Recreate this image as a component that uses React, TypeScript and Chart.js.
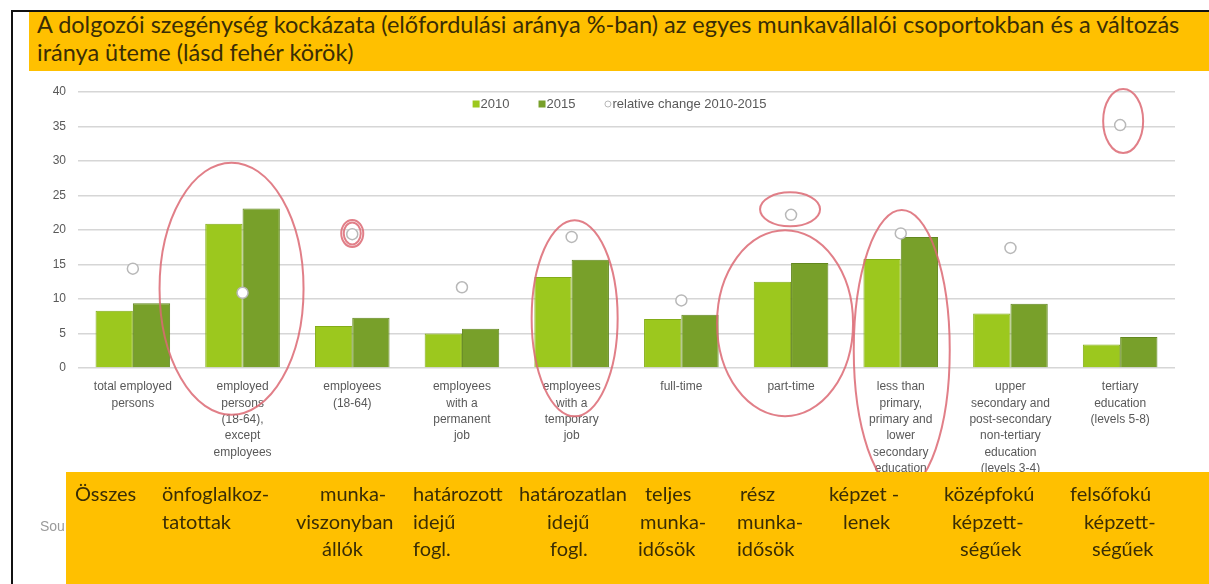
import React, { useEffect, useRef } from "react";
import { Chart, registerables } from "chart.js";

Chart.register(...registerables);

// ---------- data ----------
const categories: string[][] = [
  ["total employed", "persons"],
  ["employed", "persons", "(18-64),", "except", "employees"],
  ["employees", "(18-64)"],
  ["employees", "with a", "permanent", "job"],
  ["employees", "with a", "temporary", "job"],
  ["full-time"],
  ["part-time"],
  ["less than", "primary,", "primary and", "lower", "secondary", "education"],
  ["upper", "secondary and", "post-secondary", "non-tertiary", "education", "(levels 3-4)"],
  ["tertiary", "education", "(levels 5-8)"],
];
const values2010 = [8.3, 20.9, 6.1, 5.0, 13.2, 7.1, 12.5, 15.8, 7.9, 3.4];
const values2015 = [9.4, 23.1, 7.3, 5.7, 15.7, 7.7, 15.2, 19.0, 9.3, 4.5];
const relativeChange = [14.4, 10.9, 19.4, 11.7, 19.0, 9.8, 22.2, 19.5, 17.4, 35.2];
const seriesNames = ["2010", "2015", "relative change 2010-2015"];
const yMin = 0;
const yMax = 40;
const yStep = 5;

const titleLines = [
  "A dolgozói szegénység kockázata (előfordulási aránya %-ban) az egyes munkavállalói csoportokban és a változás",
  "iránya üteme (lásd fehér körök)",
];
const hungarianLabels: string[][] = [
  ["Összes"],
  ["önfoglalkoz-", "tatottak"],
  ["munka-", "viszonyban", "állók"],
  ["határozott", "idejű", "fogl."],
  ["határozatlan", "idejű", "fogl."],
  ["teljes", "munka-", "idősök"],
  ["rész", "munka-", "idősök"],
  ["képzet -", "lenek"],
  ["középfokú", "képzett-", "ségűek"],
  ["felsőfokú", "képzett-", "ségűek"],
];
const sourceText = "Source: Eurostat";

// ---------- layout / style (not data) ----------
const huLineLeft: number[][] = [
  [75],
  [162, 162],
  [320, 296, 322],
  [413, 413, 413],
  [519, 547, 550],
  [645, 640, 638],
  [740, 737, 737],
  [829, 843],
  [944, 952, 960],
  [1070, 1084, 1092],
];

// hand-drawn highlight ellipses, anchored to category index / value on the scales
const highlightEllipses = [
  { cat: 1, value: 11.5, dx: -11, rx: 72, ry: 126 },
  { cat: 2, value: 19.5, dx: 0, rx: 11, ry: 13.5 },
  { cat: 2, value: 19.5, dx: 0, rx: 8.5, ry: 11 },
  { cat: 4, value: 7.2, dx: 3, rx: 43, ry: 98 },
  { cat: 6, value: 23, dx: -1, rx: 30, ry: 17 },
  { cat: 6, value: 6.5, dx: -6, rx: 68, ry: 93 },
  { cat: 7, value: 2.6, dx: 1, rx: 48, ry: 140 },
  { cat: 9, value: 35.8, dx: 3, rx: 20, ry: 32 },
];

const ellipsePlugin = {
  id: "highlightEllipses",
  afterDraw(chart: any) {
    const { ctx, scales } = chart;
    const xs = scales.x;
    const ys = scales.y;
    ctx.save();
    ctx.strokeStyle = "rgba(220, 105, 115, 0.85)";
    ctx.lineWidth = 2;
    highlightEllipses.forEach((e) => {
      const cx = xs.getPixelForValue(e.cat) + e.dx;
      const cy = ys.getPixelForValue(e.value);
      ctx.beginPath();
      ctx.ellipse(cx, cy, e.rx, e.ry, 0, 0, Math.PI * 2);
      ctx.stroke();
    });
    ctx.restore();
  },
};

// legend drawn inside the plot area (between the top grid lines), like the source
const inPlotLegend = {
  id: "inPlotLegend",
  afterDatasetsDraw(chart: any) {
    const { ctx, chartArea } = chart;
    const font = "13px 'Liberation Sans', Arial, sans-serif";
    ctx.save();
    ctx.font = font;
    ctx.textBaseline = "middle";
    const box = 7;
    const gap = 1;
    const spacing = 29;
    const items = seriesNames.map((name) => {
      const ds = chart.data.datasets.find((d: any) => d.label === name);
      return { name, ds, w: box + gap + ctx.measureText(name).width };
    });
    const total = items.reduce((s: number, it: any) => s + it.w, 0) + spacing * (items.length - 1);
    let x = (chartArea.left + chartArea.right) / 2 - 7 - total / 2;
    const y = chartArea.top + 12;
    items.forEach((it: any) => {
      if (it.ds.type === "line") {
        ctx.beginPath();
        ctx.arc(x + box / 2, y, 3, 0, Math.PI * 2);
        ctx.fillStyle = "#ffffff";
        ctx.fill();
        ctx.strokeStyle = it.ds.pointBorderColor;
        ctx.lineWidth = 1;
        ctx.stroke();
      } else {
        ctx.fillStyle = it.ds.backgroundColor;
        ctx.fillRect(x, y - box / 2, box, box);
      }
      ctx.fillStyle = "#595959";
      ctx.fillText(it.name, x + box + gap, y);
      x += it.w + spacing;
    });
    ctx.restore();
  },
};

const CANVAS_LEFT = 14;
const CANVAS_TOP = 72;
const CANVAS_W = 1195;
const CANVAS_H = 512;

function ChartCanvas() {
  const ref = useRef<HTMLCanvasElement | null>(null);
  useEffect(() => {
    if (!ref.current) return;
    const axisFont = { family: "'Liberation Sans', Arial, sans-serif", size: 12 };
    const chart = new Chart(ref.current, {
      type: "bar",
      data: {
        labels: categories,
        datasets: [
          {
            type: "line",
            label: seriesNames[2],
            data: relativeChange,
            showLine: false,
            pointRadius: 5.5,
            pointHoverRadius: 5.5,
            pointStyle: "circle",
            pointBackgroundColor: "#ffffff",
            pointBorderColor: "#b8b8b8",
            pointBorderWidth: 1.5,
            backgroundColor: "#ffffff",
            borderColor: "#b8b8b8",
            borderWidth: 1.5,
            order: 0,
          } as any,
          {
            label: seriesNames[0],
            data: values2010,
            backgroundColor: "#9cc81e",
            borderColor: "#83ac18",
            borderWidth: 1,
            order: 1,
          } as any,
          {
            label: seriesNames[1],
            data: values2015,
            backgroundColor: "#78a02a",
            borderColor: "#62871f",
            borderWidth: 1,
            order: 1,
          } as any,
        ],
      },
      options: {
        responsive: false,
        animation: false,
        layout: { padding: { left: 0, right: 34, top: 20, bottom: 0 } },
        datasets: {
          bar: { categoryPercentage: 0.68, barPercentage: 1 },
        } as any,
        plugins: {
          tooltip: { enabled: false },
          legend: { display: false },
        },
        scales: {
          x: {
            grid: { display: false, drawTicks: true, tickLength: 8 },
            border: { display: false },
            ticks: {
              color: "#595959",
              font: { ...axisFont, lineHeight: 1.36 },
              padding: 3,
              maxRotation: 0,
              autoSkip: false,
            },
            afterFit: (s: any) => {
              s.height = 216;
            },
          },
          y: {
            min: yMin,
            max: yMax,
            ticks: { stepSize: yStep, color: "#595959", font: axisFont, padding: 12 },
            grid: { color: "#d6d6d6", lineWidth: 1.5, drawTicks: false },
            border: { display: false },
            afterFit: (s: any) => {
              s.width = 64;
            },
          },
        },
      },
      plugins: [inPlotLegend, ellipsePlugin],
    });
    return () => chart.destroy();
  }, []);
  return (
    <canvas
      ref={ref}
      width={CANVAS_W}
      height={CANVAS_H}
      style={{ position: "absolute", left: CANVAS_LEFT, top: CANVAS_TOP, width: CANVAS_W, height: CANVAS_H }}
    />
  );
}

export default function App() {
  const titleFont = "Lato, 'Open Sans', sans-serif";
  const darkText = "#3a2d05";
  return (
    <div
      style={{
        position: "absolute",
        left: 0,
        top: 0,
        width: 1209,
        height: 584,
        overflow: "hidden",
        background: "#ffffff",
      }}
    >
      {/* frame lines */}
      <div style={{ position: "absolute", left: 11, top: 10, width: 2, height: 574, background: "#111" }} />
      <div style={{ position: "absolute", left: 11, top: 10, width: 1198, height: 2, background: "#111" }} />

      {/* title box */}
      <div
        style={{
          position: "absolute",
          left: 29,
          top: 12,
          width: 1180,
          height: 59,
          background: "#ffc000",
          overflow: "hidden",
        }}
      >
        {titleLines.map((t, i) => (
          <div
            key={i}
            style={{
              position: "absolute",
              left: 8,
              top: -2 + i * 28,
              whiteSpace: "nowrap",
              fontFamily: titleFont,
              fontSize: 23.5,
              lineHeight: "28px",
              color: darkText,
            }}
          >
            {t}
          </div>
        ))}
      </div>

      <ChartCanvas />

      {/* source text (mostly covered) */}
      <div
        style={{
          position: "absolute",
          left: 40,
          top: 518,
          fontFamily: "'Liberation Sans', Arial, sans-serif",
          fontSize: 14,
          color: "#9a9a9a",
          whiteSpace: "nowrap",
        }}
      >
        {sourceText}
      </div>

      {/* Hungarian label box */}
      <div
        style={{
          position: "absolute",
          left: 66,
          top: 472,
          width: 1143,
          height: 112,
          background: "#ffc000",
        }}
      >
        {hungarianLabels.map((lines, ci) =>
          lines.map((line, li) => (
            <div
              key={ci + "-" + li}
              style={{
                position: "absolute",
                left: huLineLeft[ci][li] - 66,
                top: 7 + li * 27.5,
                whiteSpace: "nowrap",
                fontFamily: titleFont,
                fontSize: 20,
                lineHeight: "28px",
                color: darkText,
              }}
            >
              {line}
            </div>
          ))
        )}
      </div>
    </div>
  );
}
